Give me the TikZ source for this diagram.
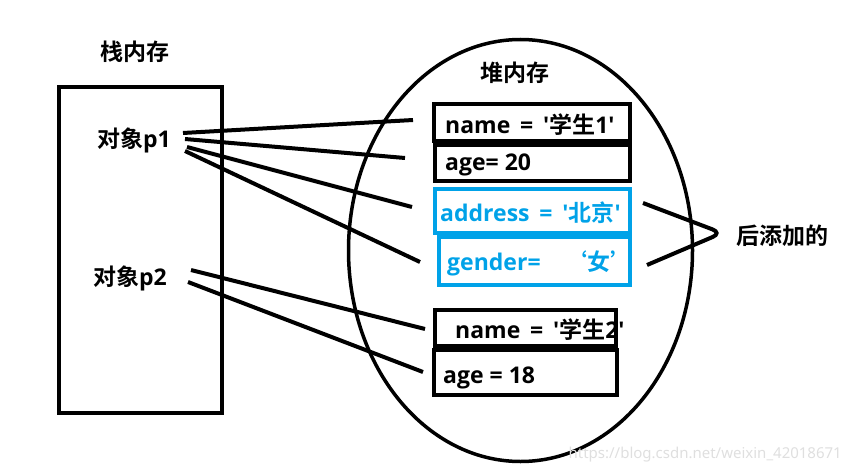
\documentclass[tikz,border=0pt]{standalone}
\usepackage{fontspec}
\newfontfamily\lat{Open Sans Bold}
\newfontfamily\han{Noto Sans CJK SC Bold}
\newfontfamily\wmfont{Noto Sans}
\newcommand\zh[1]{{\han #1}}
\definecolor{paintblue}{RGB}{0,162,232}

\begin{document}
\begin{tikzpicture}[x=1pt,y=-1pt,
  txt/.style={font=\lat\fontsize{23}{26}\selectfont, inner sep=0pt},
  cell/.style={draw, line width=4pt, inner sep=0pt},
  added/.style={cell, draw=paintblue},
  link/.style={line width=4pt}]
\useasboundingbox (0,0) rectangle (850,473);

% stack
\node[txt] (stk) at (135,52) {\zh{栈内存}};
\node[cell, minimum width=163pt, minimum height=326pt] (stack) at (140.5,250) {};
\node[txt] (p1) at (134,140) {\zh{对象}p1};
\node[txt] (p2) at (130,278) {\zh{对象}p2};

% heap
\draw[line width=3.5pt] (520.5,250.5) ellipse (172 and 211);
\node[txt] (hp) at (515,73) {\zh{堆内存}};

\node[cell, minimum width=196pt, minimum height=37pt] (nm1) at (532,122.5) {};
\node[cell, minimum width=195pt, minimum height=36pt] (ag1) at (532.5,163) {};
\node[added, minimum width=195pt, minimum height=44pt] (adr) at (532.5,211) {};
\node[added, minimum width=191pt, minimum height=48pt] (gdr) at (534.5,261) {};
\node[cell, minimum width=181pt, minimum height=36pt] (nm2) at (525.5,328) {};
\node[cell, minimum width=183pt, minimum height=45pt] (ag2) at (525.5,372.5) {};

\node[txt, anchor=west] (nm1t) at (445,125) {name \,=\, '\zh{学生}1'};
\node[txt, anchor=west] (ag1t) at (445,165) {age= 20};
\node[txt, anchor=west, text=paintblue] (adrt) at (440,213) {address \,=\, '\zh{北京}'};
\node[txt, anchor=west, text=paintblue] (gdrt) at (447,263) {gender=\hspace{24pt}\zh{‘女’}};
\node[txt, anchor=west] (nm2t) at (455,330) {name \,=\, '\zh{学生}2'};
\node[txt, anchor=west] (ag2t) at (443,378) {age = 18};

% references
\coordinate (s1) at (183,133); \coordinate (e1) at (413,120);
\coordinate (s2) at (185,139); \coordinate (e2) at (405,158);
\coordinate (s3) at (187,147); \coordinate (e3) at (412,207);
\coordinate (s4) at (185,151); \coordinate (e4) at (420,262);
\coordinate (s5) at (191,270); \coordinate (e5) at (425,329);
\coordinate (s6) at (188,282); \coordinate (e6) at (423,372);
\draw[link] (s1) -- (e1);
\draw[link] (s2) -- (e2);
\draw[link] (s3) -- (e3);
\draw[link] (s4) -- (e4);
\draw[link] (s5) -- (e5);
\draw[link] (s6) -- (e6);

% added later
\coordinate (b1) at (643,203); \coordinate (bt) at (722,233); \coordinate (b2) at (647,265);
\draw[link, rounded corners=10pt] (b1) -- (bt) -- (b2);
\node[txt] (late) at (782,236) {\zh{后添加的}};

\node[font=\wmfont\fontsize{15}{18}\selectfont, text=gray!25, anchor=east, inner sep=0pt] (wm) at (842,455) {https://blog.csdn.net/weixin\_42018671};
\end{tikzpicture}
\end{document}
